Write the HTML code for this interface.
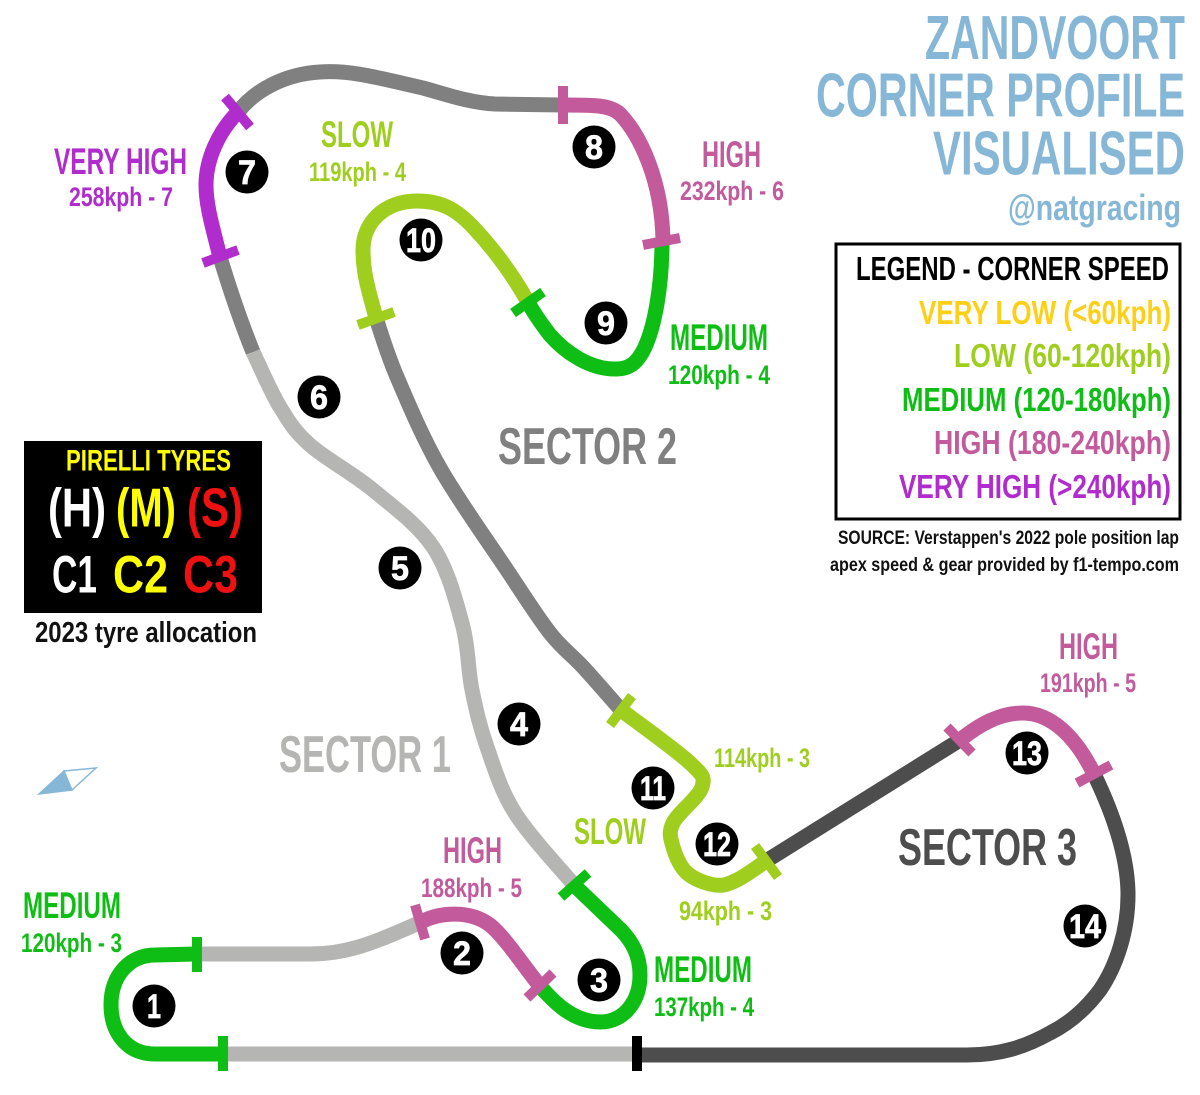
<!DOCTYPE html>
<html><head><meta charset="utf-8"><style>
html,body{margin:0;padding:0;background:#fff}
svg{display:block}
text{font-family:"Liberation Sans",sans-serif;font-weight:700}
.t{fill:none;stroke-width:15}
.k{fill:none;stroke-width:10}
.n{fill:#fff;stroke:#fff;stroke-width:.7;font-size:34px}
</style></head><body>
<svg width="1200" height="1095" viewBox="0 0 1200 1095" xmlns="http://www.w3.org/2000/svg">
<rect width="1200" height="1095" fill="#fff"/>
<!-- track -->
<path class="t" stroke="#b5b5b3" d="M637 1054H222"/>
<path class="t" stroke="#b5b5b3" d="M197 954H310C345 954 370 945 421 922"/>
<path class="t" stroke="#b5b5b3" d="M574 885C564.200 873 529.500 836 515 813C500.500 790 494.200 767.500 487 747C479.800 726.500 476.200 710.700 472 690C467.800 669.300 468.500 646.800 462 623C455.500 599.200 447.800 569.200 433 547C418.200 524.800 393.500 507 373 490C352.500 473 325.500 458.800 310 445C294.500 431.200 289.500 422.500 280 407C270.500 391.500 257.500 361.200 253 352"/>
<path class="t" stroke="#808080" d="M253 352C240 320 230 290 220 257"/>
<path class="t" stroke="#808080" d="M238 112C255 90 285 74 320 72C350 70 375 77 423 88C445 94 470 103 495 104L563 105"/>
<path class="t" stroke="#808080" d="M376 318C379.500 328 386.300 352 397 377C407.700 402 421.700 435.800 440 468C458.300 500.200 488.700 542.500 507 570C525.300 597.500 537.300 616.800 550 633C562.700 649.200 571.200 654.200 583 667C594.800 679.800 614.700 702.800 621 710"/>
<path class="t" stroke="#4d4d4d" d="M766 861L960 740"/>
<path class="t" stroke="#4d4d4d" d="M1094 774C1108 803 1128 850 1128 895C1128 930 1117 965 1100 990C1085 1010 1068 1024 1050 1033C1025 1047 1000 1055 967 1055H637"/>
<path class="t" stroke="#0fbe14" d="M222 1054H155C125 1054 111 1030 111 1005C111 975 130 955 155 955L197 954"/>
<path class="t" stroke="#c25a9b" d="M421 922C440 912 470 910 490 925C505 937 525 968 540 986"/>
<path class="t" stroke="#0fbe14" d="M540 986C552 1000 572 1022 600 1022C625 1022 640 1000 640 975C640 955 632 942 622 931L574 885"/>
<path class="t" stroke="#b02ccc" d="M220 257C212 225 206 205 206 185C206 160 218 132 238 112"/>
<path class="t" stroke="#c25a9b" d="M563 105C595 105 610 105 620 114C640 135 662 180 663 241"/>
<path class="t" stroke="#0fbe14" d="M662 241C662 285 655 325 645 347C638 362 630 369 617 369C590 370 565 352 550 335C540 322 533 312 528 302"/>
<path class="t" stroke="#9fce1e" d="M528 302C510 270 490 245 473 227C455 208 440 201 417 201C385 201 363 222 363 250C363 275 370 295 376 318"/>
<path class="t" stroke="#9fce1e" d="M621 710C632.500 718.800 676.500 750.200 690 763C703.500 775.800 704.800 777 702 787C699.200 797 677.800 813 673 823C668.200 833 670.700 838.700 673 847C675.300 855.300 680 866.700 687 873C694 879.300 706.700 883.800 715 885C723.300 886.200 728.500 884 737 880C745.500 876 761.200 864.200 766 861"/>
<path class="t" stroke="#c25a9b" d="M960 740C980 724 1000 713 1023 713C1050 713 1075 735 1094 774"/>
<!-- ticks -->
<path class="k" stroke="#0fbe14" d="M197 937V972M223 1036V1071M561 897L588 873M513 313L543 292"/>
<path class="k" stroke="#c25a9b" d="M415 905L425 939M527 998L553 973M563 86V124M643 245L680 238M947 727L972 753M1077 783L1111 765"/>
<path class="k" stroke="#b02ccc" d="M203 263L238 250M225 97L250 127"/>
<path class="k" stroke="#9fce1e" d="M358 325L394 312M610 725L632 696M755 846L778 877"/>
<path class="k" stroke="#000" d="M637 1036V1071"/>
<!-- numbers -->
<g fill="#000">
<circle cx="154" cy="1006" r="21.5"/><circle cx="462" cy="953" r="21.5"/><circle cx="599" cy="980" r="21.5"/>
<circle cx="519" cy="724" r="21.5"/><circle cx="400" cy="568" r="21.5"/><circle cx="319" cy="397" r="21.5"/>
<circle cx="247" cy="172" r="21.5"/><circle cx="594" cy="147" r="21.5"/><circle cx="606" cy="323" r="21.5"/>
<circle cx="421" cy="240" r="21.5"/><circle cx="653" cy="788" r="21.5"/><circle cx="717" cy="844" r="21.5"/>
<circle cx="1027" cy="753" r="21.5"/><circle cx="1085" cy="926" r="21.5"/>
</g>
<text class="n" x="147" y="1018" textLength="14" lengthAdjust="spacingAndGlyphs">1</text>
<text class="n" x="453" y="965" textLength="18" lengthAdjust="spacingAndGlyphs">2</text>
<text class="n" x="590" y="992" textLength="18" lengthAdjust="spacingAndGlyphs">3</text>
<text class="n" x="510" y="736" textLength="18" lengthAdjust="spacingAndGlyphs">4</text>
<text class="n" x="391" y="580" textLength="18" lengthAdjust="spacingAndGlyphs">5</text>
<text class="n" x="310" y="409" textLength="18" lengthAdjust="spacingAndGlyphs">6</text>
<text class="n" x="238" y="184" textLength="18" lengthAdjust="spacingAndGlyphs">7</text>
<text class="n" x="585" y="159" textLength="18" lengthAdjust="spacingAndGlyphs">8</text>
<text class="n" x="597" y="335" textLength="18" lengthAdjust="spacingAndGlyphs">9</text>
<text class="n" x="406" y="252" textLength="30" lengthAdjust="spacingAndGlyphs">10</text>
<text class="n" x="640" y="800" textLength="26" lengthAdjust="spacingAndGlyphs">11</text>
<text class="n" x="703" y="856" textLength="28" lengthAdjust="spacingAndGlyphs">12</text>
<text class="n" x="1012" y="765" textLength="30" lengthAdjust="spacingAndGlyphs">13</text>
<text class="n" x="1069" y="938" textLength="32" lengthAdjust="spacingAndGlyphs">14</text>
<!-- title -->
<g fill="#86b7d6" font-size="62">
<text x="925" y="59" textLength="260" lengthAdjust="spacingAndGlyphs">ZANDVOORT</text>
<text x="816" y="116.500" textLength="369" lengthAdjust="spacingAndGlyphs">CORNER PROFILE</text>
<text x="933" y="174.500" textLength="252" lengthAdjust="spacingAndGlyphs">VISUALISED</text>
<text x="1008" y="220" font-size="36" textLength="173" lengthAdjust="spacingAndGlyphs">@natgracing</text>
</g>
<!-- legend -->
<rect x="836" y="244" width="344" height="275" fill="none" stroke="#000" stroke-width="3"/>
<g font-size="33">
<text x="856" y="280" fill="#000" textLength="313" lengthAdjust="spacingAndGlyphs">LEGEND - CORNER SPEED</text>
<text x="919" y="324" fill="#fdd017" textLength="252" lengthAdjust="spacingAndGlyphs">VERY LOW (&lt;60kph)</text>
<text x="954" y="367" fill="#9fce1e" textLength="217" lengthAdjust="spacingAndGlyphs">LOW (60-120kph)</text>
<text x="902" y="411" fill="#0fbe14" textLength="269" lengthAdjust="spacingAndGlyphs">MEDIUM (120-180kph)</text>
<text x="934" y="454" fill="#c25a9b" textLength="237" lengthAdjust="spacingAndGlyphs">HIGH (180-240kph)</text>
<text x="899" y="498" fill="#b02ccc" textLength="272" lengthAdjust="spacingAndGlyphs">VERY HIGH (&gt;240kph)</text>
</g>
<g font-size="19" fill="#111">
<text x="838" y="544" textLength="341" lengthAdjust="spacingAndGlyphs">SOURCE: Verstappen's 2022 pole position lap</text>
<text x="830" y="571" textLength="349" lengthAdjust="spacingAndGlyphs">apex speed &amp; gear provided by f1-tempo.com</text>
</g>
<!-- tyres -->
<rect x="24" y="441" width="238" height="172" fill="#000"/>
<text x="66" y="470.500" font-size="30" fill="#ffff00" textLength="165" lengthAdjust="spacingAndGlyphs">PIRELLI TYRES</text>
<g font-size="55">
<text x="48" y="526.500" fill="#fff" textLength="58" lengthAdjust="spacingAndGlyphs">(H)</text>
<text x="116" y="526.500" fill="#ffff00" textLength="60" lengthAdjust="spacingAndGlyphs">(M)</text>
<text x="187" y="526.500" fill="#ee1111" textLength="56" lengthAdjust="spacingAndGlyphs">(S)</text>
</g>
<g font-size="53">
<text x="52" y="592.500" fill="#fff" textLength="45" lengthAdjust="spacingAndGlyphs">C1</text>
<text x="113" y="592.500" fill="#ffff00" textLength="55" lengthAdjust="spacingAndGlyphs">C2</text>
<text x="183" y="592.500" fill="#ee1111" textLength="55" lengthAdjust="spacingAndGlyphs">C3</text>
</g>
<text x="35" y="642" font-size="29" fill="#111" textLength="222" lengthAdjust="spacingAndGlyphs">2023 tyre allocation</text>
<!-- sectors -->
<g font-size="52">
<text x="498" y="464" fill="#808080" textLength="179" lengthAdjust="spacingAndGlyphs">SECTOR 2</text>
<text x="279" y="772" fill="#b5b5b3" textLength="172" lengthAdjust="spacingAndGlyphs">SECTOR 1</text>
<text x="898" y="865" fill="#4d4d4d" textLength="179" lengthAdjust="spacingAndGlyphs">SECTOR 3</text>
</g>
<!-- corner labels -->
<g font-size="37">
<text x="23" y="918" fill="#0fbe14" textLength="98" lengthAdjust="spacingAndGlyphs">MEDIUM</text>
<text x="443" y="863" fill="#c25a9b" textLength="59" lengthAdjust="spacingAndGlyphs">HIGH</text>
<text x="574" y="844" fill="#9fce1e" textLength="72" lengthAdjust="spacingAndGlyphs">SLOW</text>
<text x="654" y="982" fill="#0fbe14" textLength="98" lengthAdjust="spacingAndGlyphs">MEDIUM</text>
<text x="1059" y="659" fill="#c25a9b" textLength="59" lengthAdjust="spacingAndGlyphs">HIGH</text>
<text x="321" y="147" fill="#9fce1e" textLength="72" lengthAdjust="spacingAndGlyphs">SLOW</text>
<text x="54" y="174" fill="#b02ccc" textLength="133" lengthAdjust="spacingAndGlyphs">VERY HIGH</text>
<text x="702" y="167" fill="#c25a9b" textLength="59" lengthAdjust="spacingAndGlyphs">HIGH</text>
<text x="670" y="350" fill="#0fbe14" textLength="98" lengthAdjust="spacingAndGlyphs">MEDIUM</text>
</g>
<g font-size="27">
<text x="21" y="952" fill="#0fbe14" textLength="101" lengthAdjust="spacingAndGlyphs">120kph - 3</text>
<text x="421" y="897" fill="#c25a9b" textLength="101" lengthAdjust="spacingAndGlyphs">188kph - 5</text>
<text x="714" y="767" fill="#9fce1e" textLength="96" lengthAdjust="spacingAndGlyphs">114kph - 3</text>
<text x="679" y="920" fill="#9fce1e" textLength="93" lengthAdjust="spacingAndGlyphs">94kph - 3</text>
<text x="654" y="1016" fill="#0fbe14" textLength="100" lengthAdjust="spacingAndGlyphs">137kph - 4</text>
<text x="1040" y="692" fill="#c25a9b" textLength="96" lengthAdjust="spacingAndGlyphs">191kph - 5</text>
<text x="309" y="181" fill="#9fce1e" textLength="97" lengthAdjust="spacingAndGlyphs">119kph - 4</text>
<text x="69" y="206" fill="#b02ccc" textLength="104" lengthAdjust="spacingAndGlyphs">258kph - 7</text>
<text x="680" y="200" fill="#c25a9b" textLength="104" lengthAdjust="spacingAndGlyphs">232kph - 6</text>
<text x="668" y="384" fill="#0fbe14" textLength="102" lengthAdjust="spacingAndGlyphs">120kph - 4</text>
</g>
<!-- diamond -->
<polygon points="39,794 64,771 72,790" fill="#86b7d6" stroke="#86b7d6" stroke-width="1.500"/>
<polygon points="64,771 96,768 72,790" fill="#fff" stroke="#86b7d6" stroke-width="1.500"/>
</svg>
</body></html>
